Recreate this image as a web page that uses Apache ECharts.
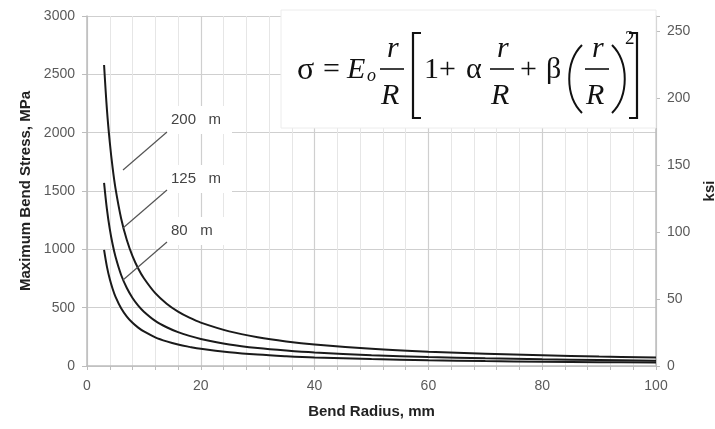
<!DOCTYPE html>
<html><head><meta charset="utf-8">
<script src="https://cdn.jsdelivr.net/npm/echarts@6/dist/echarts.min.js"></script>
<style>html,body{margin:0;padding:0;background:#fff}#c{width:715px;height:429px}</style>
</head><body><div id="c"></div>
<script>
// Bend radius (mm)
const radius = [3, 3.5, 4, 4.5, 5, 6, 7, 8, 9, 10, 12, 14, 16, 18, 20, 25, 30, 35, 40, 50, 60, 70, 80, 90, 100];
// Maximum bend stress (MPa) for each fibre size
const stress200 = [2580, 2200, 1920, 1700, 1525, 1265, 1080, 942, 836, 752, 624, 534, 466, 414, 372, 297, 247, 211, 184, 147, 122, 105, 92, 81, 73];
const stress125 = [1570, 1345, 1175, 1043, 938, 780, 668, 583, 518, 466, 387, 332, 290, 258, 232, 185, 154, 132, 115, 92, 77, 66, 57, 51, 46];
const stress80  = [995, 852, 745, 662, 595, 495, 424, 370, 329, 296, 246, 211, 184, 164, 147, 118, 98, 84, 73, 59, 49, 42, 37, 33, 29];
// Annotation labels and arrows (data units: [fromR, fromStress, toR, toStress])
const labels = ['200   m', '125   m', '80   m'];
const arrows = [[14.06, 2006, 6.33, 1680], [14.06, 1509, 6.33, 1183], [14.06, 1063, 6.33, 737]];
// Axis ranges
const xRange = [0, 100], xStep = 20;
const yRange = [0, 3000], yStep = 500;
const ksiRange = [0, 261.5], ksiStep = 50;

const chart = echarts.init(document.getElementById('c'));
const gray = '#bdbdbd';
const lab = {color: '#5a5a5a', fontSize: 14, fontFamily: 'Liberation Sans'};
const nameStyle = {color: '#222', fontSize: 15, fontWeight: 'bold', fontFamily: 'Liberation Sans'};
const series = [stress200, stress125, stress80].map((s, i) => ({
  type: 'line', data: radius.map((r, j) => [r, s[j]]), smooth: 0.35, showSymbol: false,
  lineStyle: {color: '#1a1a1a', width: 2}, z: 3, animation: false, silent: true,
  markLine: {silent: true, animation: false, symbol: ['none', 'arrow'], symbolSize: [0, 7],
    label: {show: false}, lineStyle: {color: '#555', width: 1.2, type: 'solid'},
    data: [[{coord: [arrows[i][0], arrows[i][1]]}, {coord: [arrows[i][2], arrows[i][3]]}]]}
}));

const serif = 'Liberation Serif';
function t(x, y, s, size, italic) {
  return {type: 'text', z: 20, style: {x, y, text: s, font: (italic ? 'italic ' : '') + size + 'px "' + serif + '"', fill: '#111', verticalAlign: 'top'}};
}
function frac(cx) {
  return [
    t(cx - 5, 34, 'r', 30, true),
    {type: 'line', z: 20, shape: {x1: cx - 12, y1: 69, x2: cx + 12, y2: 69}, style: {stroke: '#111', lineWidth: 1.6}},
    t(cx - 11, 81, 'R', 30, true)
  ];
}
const mainTop = 55;
const formula = [
  {type: 'rect', z: 1, shape: {x: 281, y: 10, width: 375, height: 118}, style: {fill: '#fff', stroke: '#ececec', lineWidth: 1}},
  t(297, mainTop, 'σ', 32, false),
  t(323, mainTop, '=', 30, false),
  t(347, mainTop, 'E', 30, true),
  t(367, mainTop + 12, 'o', 18, true),
  ...frac(392),
  {type: 'polyline', z: 20, shape: {points: [[421, 33], [413, 33], [413, 118], [421, 118]]}, style: {stroke: '#111', lineWidth: 2.2, fill: null}},
  t(424, mainTop, '1+', 30, false),
  t(466, mainTop, 'α', 30, false),
  ...frac(502),
  t(520, mainTop, '+', 30, false),
  t(546, mainTop, 'β', 30, false),
  {type: 'bezierCurve', z: 20, shape: {x1: 582, y1: 45, cpx1: 565, cpy1: 62, cpx2: 565, cpy2: 96, x2: 582, y2: 113}, style: {stroke: '#111', lineWidth: 2}},
  ...frac(597),
  {type: 'bezierCurve', z: 20, shape: {x1: 612, y1: 45, cpx1: 629, cpy1: 62, cpx2: 629, cpy2: 96, x2: 612, y2: 113}, style: {stroke: '#111', lineWidth: 2}},
  t(625, 30, '2', 19, false),
  {type: 'polyline', z: 20, shape: {points: [[629, 33], [637, 33], [637, 118], [629, 118]]}, style: {stroke: '#111', lineWidth: 2.2, fill: null}}
];
const boxTops = [106, 165, 217];
const labelEls = [];
labels.forEach((s, i) => {
  labelEls.push({type: 'rect', z: 1, shape: {x: 166, y: boxTops[i], width: 66, height: 28}, style: {fill: '#fff'}});
  labelEls.push({type: 'text', z: 20, style: {x: 171, y: boxTops[i] + 14, text: s, font: '15px "Liberation Sans"', fill: '#444', verticalAlign: 'middle'}});
});

chart.setOption({
  animation: false,
  backgroundColor: '#fff',
  grid: {left: 87, right: 59, top: 16, bottom: 63, containLabel: false, outerBoundsMode: 'none'},
  xAxis: {type: 'value', min: xRange[0], max: xRange[1], interval: xStep,
    name: 'Bend Radius, mm', nameLocation: 'middle', nameGap: 38, nameTextStyle: nameStyle,
    axisLine: {show: true, lineStyle: {color: gray, width: 1.5}},
    axisTick: {show: true, length: 4, lineStyle: {color: gray}},
    minorTick: {show: true, splitNumber: 5, length: 4, lineStyle: {color: gray}},
    axisLabel: Object.assign({margin: 13, formatter: v => String(v)}, lab),
    splitLine: {show: true, lineStyle: {color: '#cfcfcf', width: 1.2}},
    minorSplitLine: {show: true, lineStyle: {color: '#e6e6e6', width: 1}}},
  yAxis: [
    {type: 'value', min: yRange[0], max: yRange[1], interval: yStep,
      name: 'Maximum Bend Stress, MPa', nameLocation: 'middle', nameGap: 54, nameTextStyle: nameStyle,
      axisLine: {show: true, lineStyle: {color: gray, width: 1.5}},
      axisTick: {show: true, length: 5, lineStyle: {color: gray}},
      axisLabel: Object.assign({margin: 12, formatter: v => String(v)}, lab),
      splitLine: {show: true, lineStyle: {color: '#cfcfcf', width: 1.2}}},
    {type: 'value', position: 'right', min: ksiRange[0], max: ksiRange[1], interval: ksiStep,
      name: 'ksi', nameLocation: 'middle', nameGap: 46, nameRotate: 90, nameTextStyle: nameStyle,
      axisLine: {show: true, lineStyle: {color: gray, width: 1.5}},
      axisTick: {show: true, length: 4, lineStyle: {color: gray}},
      axisLabel: Object.assign({margin: 11, formatter: v => (v % ksiStep === 0 ? String(v) : '')}, lab),
      splitLine: {show: false}}
  ],
  series,
  graphic: [...formula, ...labelEls]
});
</script></body></html>
